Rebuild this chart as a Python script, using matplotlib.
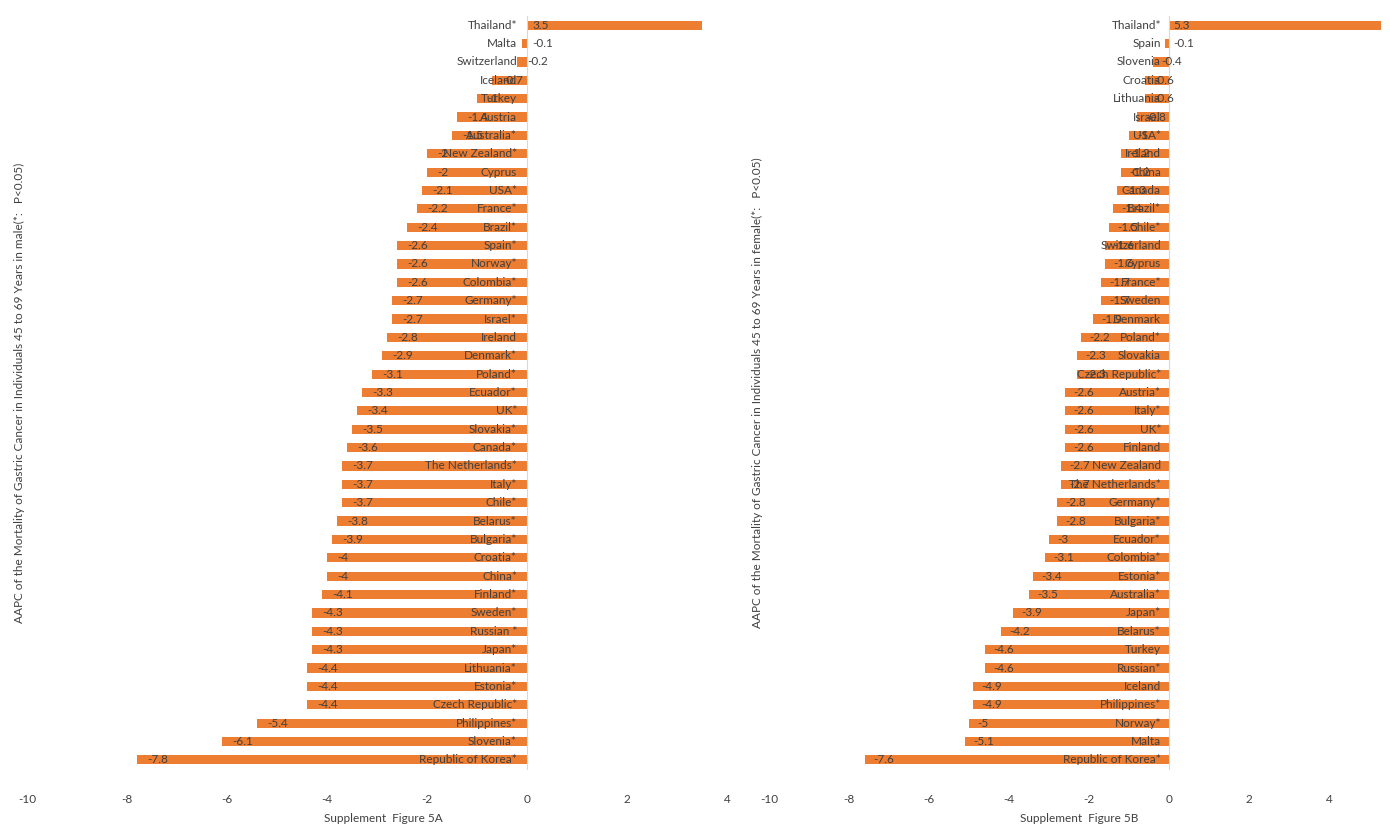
import matplotlib.pyplot as plt

plt.rcParams['font.family'] = ['Lato', 'DejaVu Sans']
plt.rcParams['axes.unicode_minus'] = False

male_countries = ["Thailand*", "Malta", "Switzerland", "Iceland", "Turkey", "Austria", "Australia*",
                  "New Zealand*", "Cyprus", "USA*", "France*", "Brazil*", "Spain*", "Norway*", "Colombia*",
                  "Germany*", "Israel*", "Ireland", "Denmark*", "Poland*", "Ecuador*", "UK*", "Slovakia*",
                  "Canada*", "The Netherlands*", "Italy*", "Chile*", "Belarus*", "Bulgaria*", "Croatia*",
                  "China*", "Finland*", "Sweden*", "Russian *", "Japan*", "Lithuania*", "Estonia*",
                  "Czech Republic*", "Philippines*", "Slovenia*", "Republic of Korea*"]
male_aapc = [3.5, -0.1, -0.2, -0.7, -1, -1.4, -1.5, -2, -2, -2.1, -2.2, -2.4, -2.6, -2.6, -2.6, -2.7, -2.7,
             -2.8, -2.9, -3.1, -3.3, -3.4, -3.5, -3.6, -3.7, -3.7, -3.7, -3.8, -3.9, -4, -4, -4.1, -4.3,
             -4.3, -4.3, -4.4, -4.4, -4.4, -5.4, -6.1, -7.8]

female_countries = ["Thailand*", "Spain", "Slovenia", "Croatia", "Lithuania", "Israel", "USA*", "Ireland",
                    "China", "Canada", "Brazil*", "Chile*", "Switzerland", "Cyprus", "France*", "Sweden",
                    "Denmark", "Poland*", "Slovakia", "Czech Republic*", "Austria*", "Italy*", "UK*",
                    "Finland", "New Zealand", "The Netherlands*", "Germany*", "Bulgaria*", "Ecuador*",
                    "Colombia*", "Estonia*", "Australia*", "Japan*", "Belarus*", "Turkey", "Russian*",
                    "Iceland", "Philippines*", "Norway*", "Malta", "Republic of Korea*"]
female_aapc = [5.3, -0.1, -0.4, -0.6, -0.6, -0.8, -1, -1.2, -1.2, -1.3, -1.4, -1.5, -1.6, -1.6, -1.7, -1.7,
               -1.9, -2.2, -2.3, -2.3, -2.6, -2.6, -2.6, -2.6, -2.7, -2.7, -2.8, -2.8, -3, -3.1, -3.4, -3.5,
               -3.9, -4.2, -4.6, -4.6, -4.9, -4.9, -5, -5.1, -7.6]

bar_color = "#ED7D31"
text_color = "#404040"

fig = plt.figure(figsize=(13.9, 8.39), dpi=100)
ax1 = fig.add_axes([0.0194, 0.0834, 0.5126, 0.8975])
ax2 = fig.add_axes([0.5532, 0.0834, 0.446, 0.8975])


def draw_panel(ax, countries, vals, xlim, ylabel, xlabel):
    n = len(countries)
    ypos = list(range(n - 1, -1, -1))
    ax.barh(ypos, vals, height=0.5, color=bar_color)
    ax.set_xlim(*xlim)
    ax.set_ylim(-0.5, n - 0.5)
    for y, v, c in zip(ypos, vals, countries):
        ax.text(-0.2, y, c, ha="right", va="center", fontsize=8.5, color=text_color)
        if v > 0:
            ax.text(0.1, y, str(v), ha="left", va="center", fontsize=8.5, color=text_color)
        else:
            ax.text(v + 0.2, y, str(v), ha="left", va="center", fontsize=8.5, color=text_color)
    ax.set_yticks([])
    ax.set_xticks(range(-10, 5, 2))
    ax.tick_params(axis="x", length=0, labelsize=8.5, colors=text_color, pad=18)
    for s in ["top", "right", "bottom"]:
        ax.spines[s].set_visible(False)
    ax.spines["left"].set_position(("data", 0))
    ax.spines["left"].set_color("#D9D9D9")
    ax.set_ylabel(ylabel, fontsize=8.5, color=text_color, labelpad=0)
    ax.set_xlabel(xlabel, fontsize=8.5, color=text_color, labelpad=6)


draw_panel(ax1, male_countries, male_aapc, (-10, 4.25),
           "AAPC of the Mortality of Gastric Cancer in Individuals 45 to 69 Years in male(*:   P<0.05)",
           "Supplement  Figure 5A")
draw_panel(ax2, female_countries, female_aapc, (-10, 5.5),
           "AAPC of the Mortality of Gastric Cancer in Individuals 45 to 69 Years in female(*:   P<0.05)",
           "Supplement  Figure 5B")
ax1.yaxis.set_label_coords(-0.003, 0.5)
ax2.yaxis.set_label_coords(-0.01, 0.5)

fig.savefig("out.png", dpi=100)
